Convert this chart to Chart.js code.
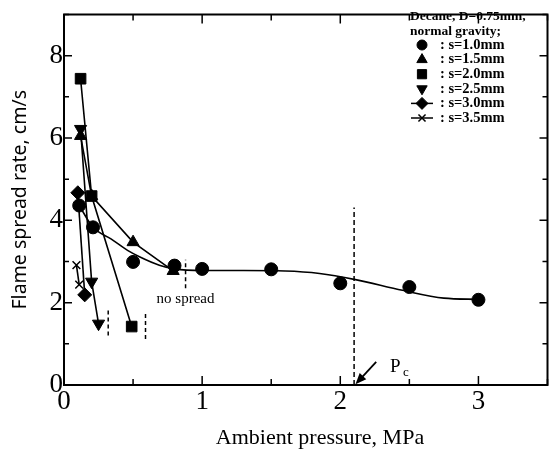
<!DOCTYPE html>
<html>
<head>
<meta charset="utf-8">
<script src="https://cdn.jsdelivr.net/npm/chart.js@4/dist/chart.umd.min.js"></script>
<style>
  html, body { margin: 0; padding: 0; background: #fff; }
</style>
</head>
<body>
<canvas id="spread-chart" width="556" height="455"></canvas>
<script>
// Decane, D = 0.75 mm, normal gravity: flame spread rate vs ambient pressure
const s10P = [0.11, 0.21, 0.5, 0.8, 1.0, 1.5, 2.0, 2.5, 3.0];
const s10V = [4.36, 3.83, 2.99, 2.9, 2.82, 2.81, 2.47, 2.38, 2.07];
// smoothed trend drawn through the s=1.0mm points
const s10FitP = [0.11, 0.21, 0.34, 0.46, 0.55, 0.69, 0.8, 1.0, 1.3, 1.6, 1.85, 2.11, 2.45, 2.75, 3.0];
const s10FitV = [4.36, 3.83, 3.55, 3.27, 3.11, 2.91, 2.82, 2.78, 2.78, 2.77, 2.71, 2.56, 2.30, 2.11, 2.08];
const s15P = [0.12, 0.2, 0.5, 0.79];
const s15V = [6.05, 4.59, 3.47, 2.77];
const s20P = [0.12, 0.2, 0.49];
const s20V = [7.44, 4.59, 1.42];
const s25P = [0.12, 0.2, 0.25];
const s25V = [6.22, 2.51, 1.49];
const s30P = [0.1, 0.15];
const s30V = [4.67, 2.19];
const s35P = [0.09, 0.11];
const s35V = [2.91, 2.44];

// short dashed marks where spread stops (pressure, low/high rate)
const limitP = [0.32, 0.59, 0.88];
const limitLo = [1.2, 1.12, 2.35];
const limitHi = [1.87, 1.75, 3.04];
// critical pressure Pc
const critP = 2.1;
const critTop = 4.31;

const xLabels = [0, 1, 2, 3];
const yLabels = [0, 2, 4, 6, 8];

const legendRows = [
  { text: ': s=1.0mm', pointStyle: 'circle', radius: 5 },
  { text: ': s=1.5mm', pointStyle: 'triangle', radius: 6 },
  { text: ': s=2.0mm', pointStyle: 'rect', radius: 6.5 },
  { text: ': s=2.5mm', pointStyle: 'triangle', radius: 6, rotation: 180 },
  { text: ': s=3.0mm', pointStyle: 'rectRot', radius: 6, line: true },
  { text: ': s=3.5mm', pointStyle: 'crossRot', radius: 5, line: true }
];

const pts = (xs, ys) => xs.map((v, i) => ({ x: v, y: ys[i] }));
const serif = '"Liberation Serif", "Times New Roman", serif';

function marks(label, xs, ys, style, extra) {
  return Object.assign({
    label: label,
    data: pts(xs, ys),
    showLine: true,
    borderColor: '#000',
    backgroundColor: '#000',
    borderWidth: 1.6,
    pointStyle: style,
    pointRadius: 6.5,
    pointBorderWidth: 1,
    pointBackgroundColor: '#000',
    pointBorderColor: '#000',
    tension: 0
  }, extra || {});
}

const datasets = [
  {
    label: 's=1.0mm trend',
    data: pts(s10FitP, s10FitV),
    showLine: true,
    borderColor: '#000',
    borderWidth: 1.6,
    pointRadius: 0,
    cubicInterpolationMode: 'monotone'
  },
  marks('s=1.0mm', s10P, s10V, 'circle', { showLine: false, pointRadius: 6.5 }),
  marks('s=1.5mm', s15P, s15V, 'triangle', { pointRadius: 7 }),
  marks('s=2.0mm', s20P, s20V, 'rect', { pointRadius: 7.5 }),
  marks('s=2.5mm', s25P, s25V, 'triangle', { pointRadius: 7, pointRotation: 180 }),
  marks('s=3.0mm', s30P, s30V, 'rectRot', { pointRadius: 7 }),
  marks('s=3.5mm', s35P, s35V, 'crossRot', { pointRadius: 5.5, pointBorderWidth: 1.5 })
];

limitP.forEach((p, i) => {
  datasets.push({
    label: 'no spread ' + i,
    data: [{ x: p, y: limitLo[i] }, { x: p, y: limitHi[i] }],
    showLine: true,
    borderColor: '#000',
    borderWidth: 1.5,
    borderDash: [4, 3],
    pointRadius: 0
  });
});
datasets.push({
  label: 'Pc',
  data: [{ x: critP, y: 0 }, { x: critP, y: critTop }],
  showLine: true,
  borderColor: '#000',
  borderWidth: 1.5,
  borderDash: [5, 3],
  pointRadius: 0
});

// box frame with inward ticks on all four sides
const frame = {
  id: 'frame',
  afterDraw(chart) {
    const { ctx, chartArea: a, scales: { x, y } } = chart;
    ctx.save();
    ctx.strokeStyle = '#000';
    ctx.lineWidth = 2;
    ctx.strokeRect(a.left, a.top, a.right - a.left, a.bottom - a.top);
    ctx.lineWidth = 1.5;
    ctx.beginPath();
    x.ticks.forEach(t => {
      const px = x.getPixelForValue(t.value);
      const len = xLabels.includes(t.value) ? 9 : 6;
      ctx.moveTo(px, a.bottom);
      ctx.lineTo(px, a.bottom - len);
      ctx.moveTo(px, a.top);
      ctx.lineTo(px, a.top + len);
    });
    y.ticks.forEach(t => {
      const py = y.getPixelForValue(t.value);
      const len = yLabels.includes(t.value) ? 8 : 5;
      ctx.moveTo(a.left, py);
      ctx.lineTo(a.left + len, py);
      ctx.moveTo(a.right, py);
      ctx.lineTo(a.right - len, py);
    });
    ctx.stroke();
    ctx.restore();
  }
};

// legend block, "no spread" note, Pc arrow and x axis title
const notes = {
  id: 'notes',
  afterDraw(chart) {
    const { ctx, scales: { x, y } } = chart;
    ctx.save();
    ctx.fillStyle = '#000';
    ctx.strokeStyle = '#000';

    ctx.font = 'bold 13.5px ' + serif;
    ctx.textBaseline = 'middle';
    ctx.textAlign = 'left';
    ctx.fillText('Decane, D=0.75mm,', 410, 17);
    ctx.fillText('normal gravity;', 410, 32);
    ctx.font = 'bold 14.5px ' + serif;
    legendRows.forEach((r, i) => {
      const ry = 45 + i * 14.6;
      if (r.line) {
        ctx.lineWidth = 1.5;
        ctx.beginPath();
        ctx.moveTo(411, ry);
        ctx.lineTo(433, ry);
        ctx.stroke();
      }
      ctx.lineWidth = r.pointStyle === 'crossRot' ? 1.5 : 1;
      Chart.helpers.drawPoint(ctx, {
        pointStyle: r.pointStyle,
        radius: r.radius,
        rotation: r.rotation || 0,
        borderWidth: ctx.lineWidth
      }, 422, ry);
      ctx.fillText(r.text, 440, ry);
    });

    ctx.font = '15px ' + serif;
    ctx.textBaseline = 'alphabetic';
    ctx.fillText('no spread', x.getPixelForValue(0.67), y.getPixelForValue(1.99));

    // arrow pointing at Pc on the pressure axis
    const x0 = x.getPixelForValue(2.26), y0 = y.getPixelForValue(0.56);
    const x1 = x.getPixelForValue(critP + 0.01), y1 = y.getPixelForValue(0.02);
    const ang = Math.atan2(y1 - y0, x1 - x0);
    ctx.lineWidth = 1.8;
    ctx.beginPath();
    ctx.moveTo(x0, y0);
    ctx.lineTo(x1 - 8 * Math.cos(ang), y1 - 8 * Math.sin(ang));
    ctx.stroke();
    ctx.beginPath();
    ctx.moveTo(x1, y1);
    ctx.lineTo(x1 - 11 * Math.cos(ang) + 4.5 * Math.sin(ang), y1 - 11 * Math.sin(ang) - 4.5 * Math.cos(ang));
    ctx.lineTo(x1 - 11 * Math.cos(ang) - 4.5 * Math.sin(ang), y1 - 11 * Math.sin(ang) + 4.5 * Math.cos(ang));
    ctx.closePath();
    ctx.fill();

    ctx.font = '19px ' + serif;
    ctx.fillText('P', 390, 372);
    ctx.font = '13px ' + serif;
    ctx.fillText('c', 403, 376);

    ctx.font = '22px ' + serif;
    ctx.textAlign = 'center';
    ctx.textBaseline = 'middle';
    ctx.fillText('Ambient pressure, MPa', 320, 438);
    ctx.restore();
  }
};

new Chart(document.getElementById('spread-chart'), {
  type: 'scatter',
  data: { datasets: datasets },
  plugins: [frame, notes],
  options: {
    responsive: false,
    animation: false,
    layout: { padding: { top: 9, right: 1, left: 0, bottom: 0 } },
    plugins: { legend: { display: false }, tooltip: { enabled: false } },
    scales: {
      x: {
        type: 'linear',
        min: 0,
        max: 3.5,
        afterFit: s => { s.height = 70; },
        grid: { display: false, drawTicks: false },
        border: { display: false },
        ticks: {
          stepSize: 0.5,
          autoSkip: false,
          maxRotation: 0,
          padding: 3,
          color: '#000',
          font: { family: serif, size: 27, lineHeight: 1 },
          callback: v => xLabels.includes(v) ? String(v) : ''
        }
      },
      y: {
        type: 'linear',
        min: 0,
        max: 9,
        afterFit: s => { s.width = 64; },
        grid: { display: false, drawTicks: false },
        border: { display: false },
        title: {
          display: true,
          text: 'Flame spread rate, cm/s',
          color: '#000',
          padding: { top: 9, bottom: 0 },
          font: { family: '"Noto Sans", sans-serif', size: 19.5 }
        },
        ticks: {
          stepSize: 1,
          autoSkip: false,
          padding: 1,
          color: '#000',
          font: { family: serif, size: 27, lineHeight: 1 },
          callback: v => yLabels.includes(v) ? String(v) : ''
        }
      }
    }
  }
});
</script>
</body>
</html>
